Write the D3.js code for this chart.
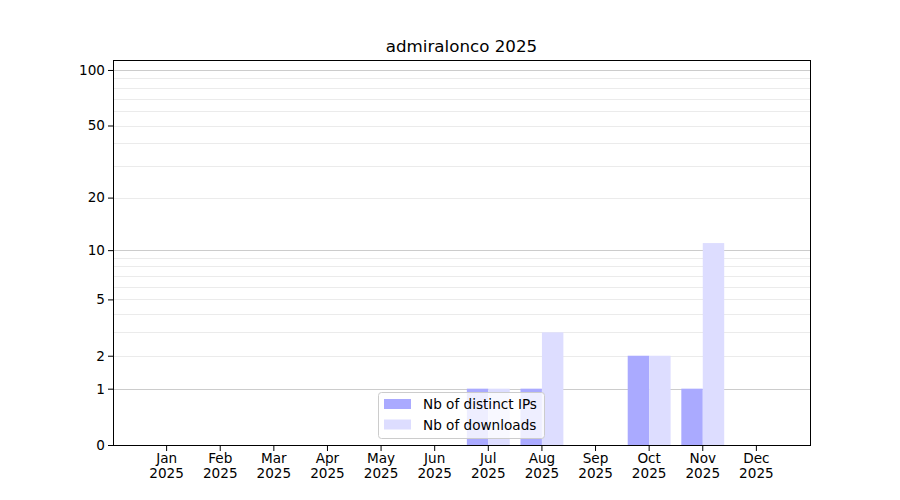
<!DOCTYPE html>
<html>
<head>
<meta charset="utf-8">
<script src="https://cdn.jsdelivr.net/npm/d3@7"></script>
<style>
  body { margin: 0; background: #fff; }
  text { font-family: "DejaVu Sans", sans-serif; }
</style>
</head>
<body>
<svg id="canvas"></svg>
<script>
let months = ['Jan', 'Feb', 'Mar', 'Apr', 'May', 'Jun', 'Jul', 'Aug', 'Sep', 'Oct', 'Nov', 'Dec']
let year = '2025'
let distinctIPs = [0, 0, 0, 0, 0, 0, 1, 1, 0, 2, 1, 0]
let downloads = [0, 0, 0, 0, 0, 0, 1, 3, 0, 2, 11, 0]
let yTicks = [0, 1, 2, 5, 10, 20, 50, 100]
let majorGrid = [1, 10, 100]
let minorGrid = [2, 3, 4, 5, 6, 7, 8, 9, 20, 30, 40, 50, 60, 70, 80, 90]

let width = 900
let height = 500
let plotLeft = 113, plotRight = 810, plotTop = 60, plotBottom = 445

let canvas = d3.select('#canvas')
               .attr('width', width)
               .attr('height', height)

let xScale = d3.scaleLinear()
               .domain([-1, 12])
               .range([plotLeft, plotRight])

let yScale = d3.scaleSymlog()
               .constant(1)
               .domain([0, 113.2])
               .range([plotBottom, plotTop])

let barW = 0.4

// grid lines (minor first, then major)
canvas.append('g')
      .selectAll('line')
      .data(minorGrid)
      .enter()
      .append('line')
      .attr('x1', plotLeft).attr('x2', plotRight)
      .attr('y1', d => Math.round(yScale(d)) + 0.5).attr('y2', d => Math.round(yScale(d)) + 0.5)
      .attr('stroke', '#ebebeb')
      .attr('stroke-width', 1)

canvas.append('g')
      .selectAll('line')
      .data(majorGrid)
      .enter()
      .append('line')
      .attr('x1', plotLeft).attr('x2', plotRight)
      .attr('y1', d => Math.round(yScale(d)) + 0.5).attr('y2', d => Math.round(yScale(d)) + 0.5)
      .attr('stroke', '#cccccc')
      .attr('stroke-width', 1)

// bars
canvas.append('g')
      .selectAll('rect')
      .data(distinctIPs)
      .enter()
      .append('rect')
      .attr('x', (d, i) => xScale(i - barW))
      .attr('width', xScale(barW) - xScale(0))
      .attr('y', d => yScale(d))
      .attr('height', d => plotBottom - yScale(d))
      .attr('fill', '#aaaaff')

canvas.append('g')
      .selectAll('rect')
      .data(downloads)
      .enter()
      .append('rect')
      .attr('x', (d, i) => xScale(i))
      .attr('width', xScale(barW) - xScale(0))
      .attr('y', d => yScale(d))
      .attr('height', d => plotBottom - yScale(d))
      .attr('fill', '#ddddff')

// frame
canvas.append('rect')
      .attr('x', plotLeft + 0.5).attr('y', plotTop + 0.5)
      .attr('width', plotRight - plotLeft).attr('height', plotBottom - plotTop)
      .attr('fill', 'none')
      .attr('stroke', '#000')
      .attr('stroke-width', 1)

// axes
let xAxis = d3.axisBottom(xScale)
              .tickValues(d3.range(12))
              .tickSize(5)
              .tickFormat(i => months[i])

let gx = canvas.append('g')
      .attr('transform', `translate(-0.5, ${plotBottom + 1})`)
      .call(xAxis)
gx.select('.domain').remove()
gx.selectAll('.tick text')
  .attr('font-size', 13.6)
  .attr('font-family', 'DejaVu Sans')
  .attr('fill', '#000')
  .attr('y', 7)
  .each(function(i) {
    let t = d3.select(this)
    t.text(null)
    t.append('tspan').attr('x', 0).attr('dy', '0.71em').text(months[i])
    t.append('tspan').attr('x', 0).attr('dy', '1.16em').text(year)
  })

let yAxis = d3.axisLeft(yScale)
              .tickValues(yTicks)
              .tickSize(5)
              .tickFormat(d3.format('d'))

let gy = canvas.append('g')
      .attr('transform', `translate(${plotLeft}, 0)`)
      .call(yAxis)
gy.select('.domain').remove()
gy.selectAll('.tick text')
  .attr('font-size', 13.6)
  .attr('font-family', 'DejaVu Sans')
  .attr('fill', '#000')
  .attr('x', -8)

// title
canvas.append('text')
      .attr('x', (plotLeft + plotRight) / 2)
      .attr('y', plotTop - 8)
      .attr('text-anchor', 'middle')
      .attr('font-size', 16.7)
      .attr('fill', '#000')
      .text('admiralonco ' + year)

// legend
let legendItems = [
  { label: 'Nb of distinct IPs', color: '#aaaaff' },
  { label: 'Nb of downloads', color: '#ddddff' }
]

let legend = canvas.append('g')
                   .attr('transform', 'translate(378.5, 392.5)')

legend.append('rect')
      .attr('width', 166).attr('height', 46)
      .attr('rx', 3)
      .attr('fill', 'rgba(255,255,255,0.8)')
      .attr('stroke', '#cccccc')
      .attr('stroke-width', 1)

legend.selectAll('.item')
      .data(legendItems)
      .enter()
      .append('g')
      .attr('transform', (d, i) => `translate(5.5, ${6.5 + i * 20.5})`)
      .each(function(d) {
        let g = d3.select(this)
        g.append('rect')
         .attr('width', 27).attr('height', 10)
         .attr('fill', d.color)
        g.append('text')
         .attr('x', 39).attr('y', 10)
         .attr('font-size', 13.6)
         .attr('fill', '#000')
         .text(d.label)
      })
</script>
</body>
</html>
